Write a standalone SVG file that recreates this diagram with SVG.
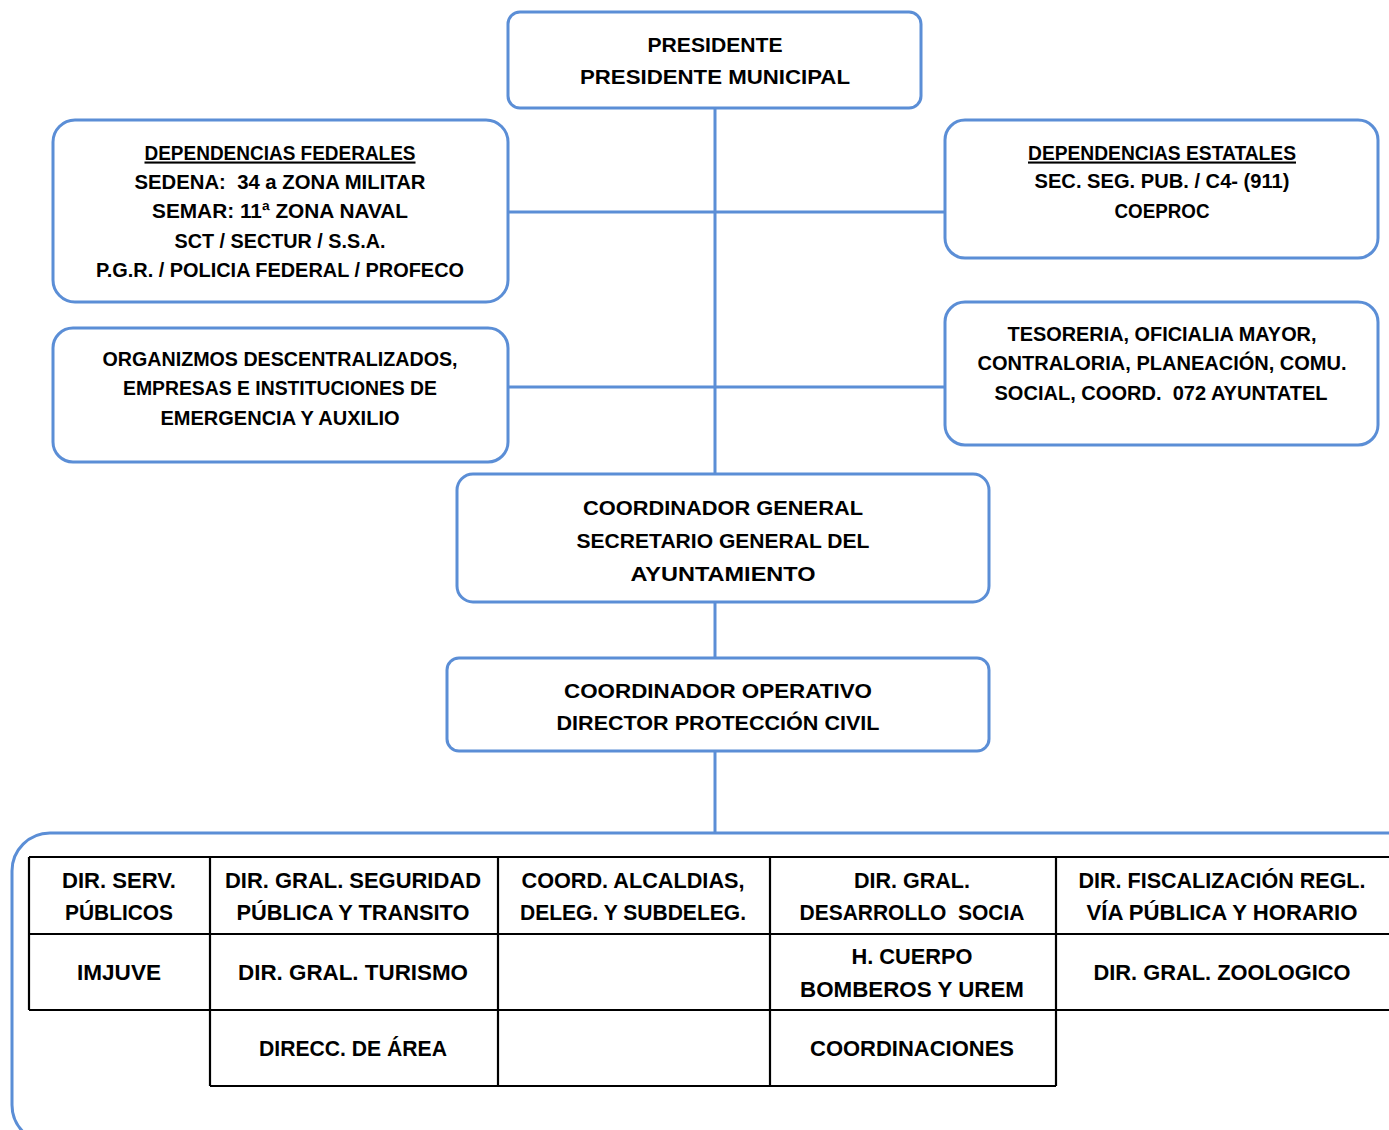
<svg xmlns="http://www.w3.org/2000/svg" width="1389" height="1130" viewBox="0 0 1389 1130">
<style>
.box{fill:#fff;stroke:#5B8ED6;stroke-width:3}
.con{stroke:#5B8ED6;stroke-width:3;fill:none}
.tl{stroke:#000;stroke-width:2.2;fill:none}
text{font-family:"Liberation Sans",Arial,sans-serif;font-weight:bold;font-size:21px;fill:#000;text-anchor:middle}
.t{font-size:22px}
</style>
<rect width="1389" height="1130" fill="#fff"/>
<g id="connectors">
<line class="con" x1="715" y1="108" x2="715" y2="474"/>
<line class="con" x1="508" y1="212" x2="945" y2="212"/>
<line class="con" x1="508" y1="387" x2="945" y2="387"/>
<line class="con" x1="715" y1="602" x2="715" y2="658"/>
<line class="con" x1="715" y1="751" x2="715" y2="833"/>
</g>
<g id="presidente">
<rect class="box" x="508" y="12" width="413" height="96" rx="12"/>
<text x="715" y="51.5" textLength="135" lengthAdjust="spacingAndGlyphs">PRESIDENTE</text>
<text x="715" y="83.5" textLength="270" lengthAdjust="spacingAndGlyphs">PRESIDENTE MUNICIPAL</text>
</g>
<g id="federales">
<rect class="box" x="53" y="120" width="455" height="182" rx="22"/>
<text x="280" y="159.5" textLength="271" lengthAdjust="spacingAndGlyphs" text-decoration="underline">DEPENDENCIAS FEDERALES</text>
<text x="280" y="188.5" textLength="291" lengthAdjust="spacingAndGlyphs" xml:space="preserve">SEDENA:  34 a ZONA MILITAR</text>
<text x="280" y="217.5" textLength="256" lengthAdjust="spacingAndGlyphs">SEMAR: 11ª ZONA NAVAL</text>
<text x="280" y="247.5" textLength="211" lengthAdjust="spacingAndGlyphs">SCT / SECTUR / S.S.A.</text>
<text x="280" y="276.5" textLength="368" lengthAdjust="spacingAndGlyphs">P.G.R. / POLICIA FEDERAL / PROFECO</text>
</g>
<g id="estatales">
<rect class="box" x="945" y="120" width="433" height="138" rx="20"/>
<text x="1162" y="159.5" textLength="268" lengthAdjust="spacingAndGlyphs" text-decoration="underline">DEPENDENCIAS ESTATALES</text>
<text x="1162" y="187.5" textLength="255" lengthAdjust="spacingAndGlyphs">SEC. SEG. PUB. / C4- (911)</text>
<text x="1162" y="217.5" textLength="95" lengthAdjust="spacingAndGlyphs">COEPROC</text>
</g>
<g id="organizmos">
<rect class="box" x="53" y="328" width="455" height="134" rx="20"/>
<text x="280" y="365.5" textLength="355" lengthAdjust="spacingAndGlyphs">ORGANIZMOS DESCENTRALIZADOS,</text>
<text x="280" y="394.5" textLength="314" lengthAdjust="spacingAndGlyphs">EMPRESAS E INSTITUCIONES DE</text>
<text x="280" y="424.5" textLength="239" lengthAdjust="spacingAndGlyphs">EMERGENCIA Y AUXILIO</text>
</g>
<g id="tesoreria">
<rect class="box" x="945" y="302" width="433" height="143" rx="20"/>
<text x="1162" y="340.5" textLength="309" lengthAdjust="spacingAndGlyphs">TESORERIA, OFICIALIA MAYOR,</text>
<text x="1162" y="369.5" textLength="369" lengthAdjust="spacingAndGlyphs">CONTRALORIA, PLANEACIÓN, COMU.</text>
<text x="1161" y="399.5" textLength="333" lengthAdjust="spacingAndGlyphs" xml:space="preserve">SOCIAL, COORD.  072 AYUNTATEL</text>
</g>
<g id="coord-general">
<rect class="box" x="457" y="474" width="532" height="128" rx="16"/>
<text x="723" y="514.5" textLength="280" lengthAdjust="spacingAndGlyphs">COORDINADOR GENERAL</text>
<text x="723" y="547.5" textLength="293" lengthAdjust="spacingAndGlyphs">SECRETARIO GENERAL DEL</text>
<text x="723" y="580.5" textLength="185" lengthAdjust="spacingAndGlyphs">AYUNTAMIENTO</text>
</g>
<g id="coord-operativo">
<rect class="box" x="447" y="658" width="542" height="93" rx="12"/>
<text x="718" y="697.5" textLength="308" lengthAdjust="spacingAndGlyphs">COORDINADOR OPERATIVO</text>
<text x="718" y="729.5" textLength="323" lengthAdjust="spacingAndGlyphs">DIRECTOR PROTECCIÓN CIVIL</text>
</g>
<g id="dependencias-municipales">
<rect class="box" x="12" y="833" width="1420" height="310" rx="38"/>
<g id="table">
<path class="tl" d="M29 857H1395M29 934H1395M29 1010H1395M210 1086H1056M29 857V1010M210 857V1086M498 857V1086M770 857V1086M1056 857V1086"/>
</g>
<text class="t" x="119" y="888" textLength="114" lengthAdjust="spacingAndGlyphs">DIR. SERV.</text>
<text class="t" x="119" y="920" textLength="108" lengthAdjust="spacingAndGlyphs">PÚBLICOS</text>
<text class="t" x="353" y="888" textLength="256" lengthAdjust="spacingAndGlyphs">DIR. GRAL. SEGURIDAD</text>
<text class="t" x="353" y="920" textLength="233" lengthAdjust="spacingAndGlyphs">PÚBLICA Y TRANSITO</text>
<text class="t" x="633" y="888" textLength="223" lengthAdjust="spacingAndGlyphs">COORD. ALCALDIAS,</text>
<text class="t" x="633" y="920" textLength="226" lengthAdjust="spacingAndGlyphs">DELEG. Y SUBDELEG.</text>
<text class="t" x="912" y="888" textLength="116" lengthAdjust="spacingAndGlyphs">DIR. GRAL.</text>
<text class="t" x="912" y="920" textLength="225" lengthAdjust="spacingAndGlyphs" xml:space="preserve">DESARROLLO  SOCIA</text>
<text class="t" x="1222" y="888" textLength="287" lengthAdjust="spacingAndGlyphs">DIR. FISCALIZACIÓN REGL.</text>
<text class="t" x="1222" y="920" textLength="271" lengthAdjust="spacingAndGlyphs">VÍA PÚBLICA Y HORARIO</text>
<text class="t" x="119" y="980" textLength="84" lengthAdjust="spacingAndGlyphs">IMJUVE</text>
<text class="t" x="353" y="980" textLength="230" lengthAdjust="spacingAndGlyphs">DIR. GRAL. TURISMO</text>
<text class="t" x="912" y="964" textLength="121" lengthAdjust="spacingAndGlyphs">H. CUERPO</text>
<text class="t" x="912" y="997" textLength="224" lengthAdjust="spacingAndGlyphs">BOMBEROS Y UREM</text>
<text class="t" x="1222" y="980" textLength="257" lengthAdjust="spacingAndGlyphs">DIR. GRAL. ZOOLOGICO</text>
<text class="t" x="353" y="1056" textLength="188" lengthAdjust="spacingAndGlyphs">DIRECC. DE ÁREA</text>
<text class="t" x="912" y="1056" textLength="204" lengthAdjust="spacingAndGlyphs">COORDINACIONES</text>
</g>
</svg>
